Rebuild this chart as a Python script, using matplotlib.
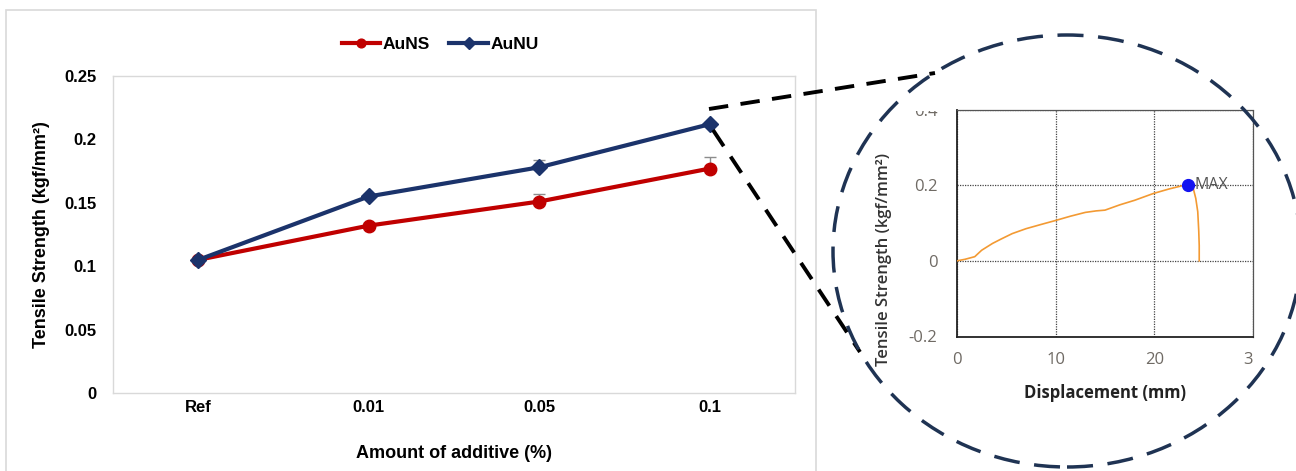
import numpy as np
import matplotlib
matplotlib.use("Agg")
import matplotlib.pyplot as plt
from matplotlib.patches import Ellipse, Rectangle
from matplotlib.lines import Line2D
from matplotlib.transforms import Bbox

# ---------------- data ----------------
categories = ["Ref", "0.01", "0.05", "0.1"]
auns = [0.105, 0.132, 0.151, 0.177]
auns_err = [0.001, 0.002, 0.006, 0.009]
aunu = [0.105, 0.155, 0.178, 0.212]
aunu_err = [0.001, 0.002, 0.006, 0.002]
y_ticks = [0, 0.05, 0.1, 0.15, 0.2, 0.25]
y_ticklabels = ["0", "0.05", "0.1", "0.15", "0.2", "0.25"]

# inset curve (displacement mm, tensile strength)
disp = [0.0, 0.8, 1.8, 2.5, 3.6, 4.5, 5.6, 7.0, 8.5, 9.9, 11.5, 13.0, 14.1, 15.0,
        16.5, 18.0, 19.9, 21.5, 22.9, 23.4, 23.9, 24.2, 24.4, 24.5, 24.55, 24.55]
stress = [0.0, 0.004, 0.011, 0.028, 0.046, 0.058, 0.072, 0.085, 0.096, 0.106,
          0.118, 0.128, 0.132, 0.134, 0.148, 0.160, 0.178, 0.190, 0.199, 0.201,
          0.196, 0.165, 0.130, 0.080, 0.040, 0.0]
max_point = (23.4, 0.201)
inset_xticks = [0, 10, 20, 30]
inset_yticks = [-0.2, 0, 0.2, 0.4]
inset_yticklabels = ["-0.2", "0", "0.2", "0.4"]

W, H = 1296, 471
fig = plt.figure(figsize=(W / 100, H / 100), dpi=100)
fig.patch.set_facecolor("white")

def fx(px):
    return px / W

def fy(py):
    return 1 - py / H

# light frame around left chart
fig.add_artist(Rectangle((fx(6), fy(480)), fx(816) - fx(6), fy(10) - fy(480),
                         transform=fig.transFigure, fill=False,
                         edgecolor="#d9d9d9", lw=1.2, clip_on=False))

# ---------------- main chart ----------------
ax = fig.add_axes([fx(113), fy(393), fx(795) - fx(113), fy(76) - fy(393)])
x = np.arange(len(categories))
red = "#C00000"
navy = "#1B336B"
font = "Liberation Sans"

ax.errorbar(x, auns, yerr=[np.zeros(len(auns)), auns_err], fmt="none",
            ecolor="#8c8c8c", elinewidth=1.0, capsize=4, capthick=1.0, zorder=2)
ax.errorbar(x, aunu, yerr=[np.zeros(len(aunu)), aunu_err], fmt="none",
            ecolor="#8c8c8c", elinewidth=1.0, capsize=4, capthick=1.0, zorder=2)
ax.plot(x, auns, color=red, lw=3.0, marker="o", ms=9, label="AuNS", zorder=3)
ax.plot(x, aunu, color=navy, lw=3.0, marker="D", ms=8.5, label="AuNU", zorder=4)

ax.set_xlim(-0.5, len(categories) - 0.5)
ax.set_ylim(0, 0.25)
ax.set_xticks(x)
ax.set_xticklabels(categories, fontsize=12, fontweight="bold", family=font)
ax.set_yticks(y_ticks)
ax.set_yticklabels(y_ticklabels, fontsize=12, fontweight="bold", family=font)
ax.tick_params(length=0)
ax.tick_params(axis="x", pad=5)
ax.tick_params(axis="y", pad=12)
for s in ax.spines.values():
    s.set_color("#d9d9d9")
    s.set_linewidth(1.0)
ax.set_xlabel("Amount of additive (%)", fontsize=13, fontweight="bold",
              family=font, labelpad=22)
ax.set_ylabel("Tensile Strength (kgf/mm²)", fontsize=13, fontweight="bold",
              family=font, labelpad=10)

leg = ax.legend(loc="lower center", bbox_to_anchor=(0.48, 1.0), ncol=2, frameon=False,
                prop={"family": font, "weight": "bold", "size": 12.5},
                handlelength=2.2, handletextpad=0.15, columnspacing=1.1,
                borderaxespad=1.0, markerscale=0.7)

# ---------------- inset ----------------
iax = fig.add_axes([fx(957), fy(336.5), fx(1253) - fx(957), fy(109.5) - fy(336.5)])
iax.plot(disp, stress, color="#F39A33", lw=1.2, zorder=3)
iax.plot([max_point[0]], [max_point[1]], "o", color="#1414F0", ms=8.5, zorder=4)
iax.text(max_point[0] + 0.7, max_point[1], "MAX", color="#555555", fontsize=11.5,
         va="center", ha="left", family="Open Sans", zorder=5)
iax.set_xlim(0, 30)
iax.set_ylim(-0.2, 0.4)
iax.set_xticks(inset_xticks)
iax.set_yticks(inset_yticks)
iax.set_xticklabels([str(v) for v in inset_xticks], fontsize=12, color="#6f6a64",
                    family="Open Sans")
iax.set_yticklabels(inset_yticklabels, fontsize=12, color="#6f6a64",
                    family="Open Sans")
iax.tick_params(length=0)
iax.tick_params(axis="y", pad=14)
iax.tick_params(axis="x", pad=11)
iax.grid(True, color="#444444", linestyle=(0, (1, 1)), lw=0.9)
iax.spines["left"].set_color("#222222")
iax.spines["bottom"].set_color("#222222")
iax.spines["left"].set_linewidth(1.3)
iax.spines["bottom"].set_linewidth(1.3)
for k in ["top", "right"]:
    iax.spines[k].set_color("#555555")
    iax.spines[k].set_linestyle((0, (1, 1)))
    iax.spines[k].set_linewidth(0.9)
iax.set_xlabel("Displacement (mm)", fontsize=12, fontweight="bold",
               family="Open Sans", color="#222222", labelpad=12)
iax.set_ylabel("Tensile Strength (kgf/mm²)", fontsize=12, fontweight="semibold",
               family="Open Sans", color="#333333")
iax.yaxis.set_label_coords((892 - 957) / 296, (336.5 - 260) / 227)

# ---------------- callout lines and circle ----------------
fig.add_artist(Line2D([fx(709), fx(935)], [fy(109), fy(73)], transform=fig.transFigure,
                      color="black", lw=2.8, linestyle=(0, (5, 3.2)), zorder=6))
fig.add_artist(Line2D([fx(713), fx(860)], [fy(130), fy(352)], transform=fig.transFigure,
                      color="black", lw=2.8, linestyle=(0, (5, 3.2)), zorder=6))
fig.add_artist(Ellipse((fx(1067), fy(251)), fx(468), 432 / H, transform=fig.transFigure,
                       fill=False, edgecolor="#1F3353", lw=2.5,
                       linestyle=(0, (7.5, 4.2)), zorder=6))

# clip inset tick labels to the cropped picture area
fig.canvas.draw()
clipbox = Bbox.from_extents(830, 0, 1253, H - 110.5)
for lab in iax.get_xticklabels() + iax.get_yticklabels():
    lab.set_clip_box(clipbox)
    lab.set_clip_on(True)

fig.savefig("out.png", dpi=100, facecolor="white")
